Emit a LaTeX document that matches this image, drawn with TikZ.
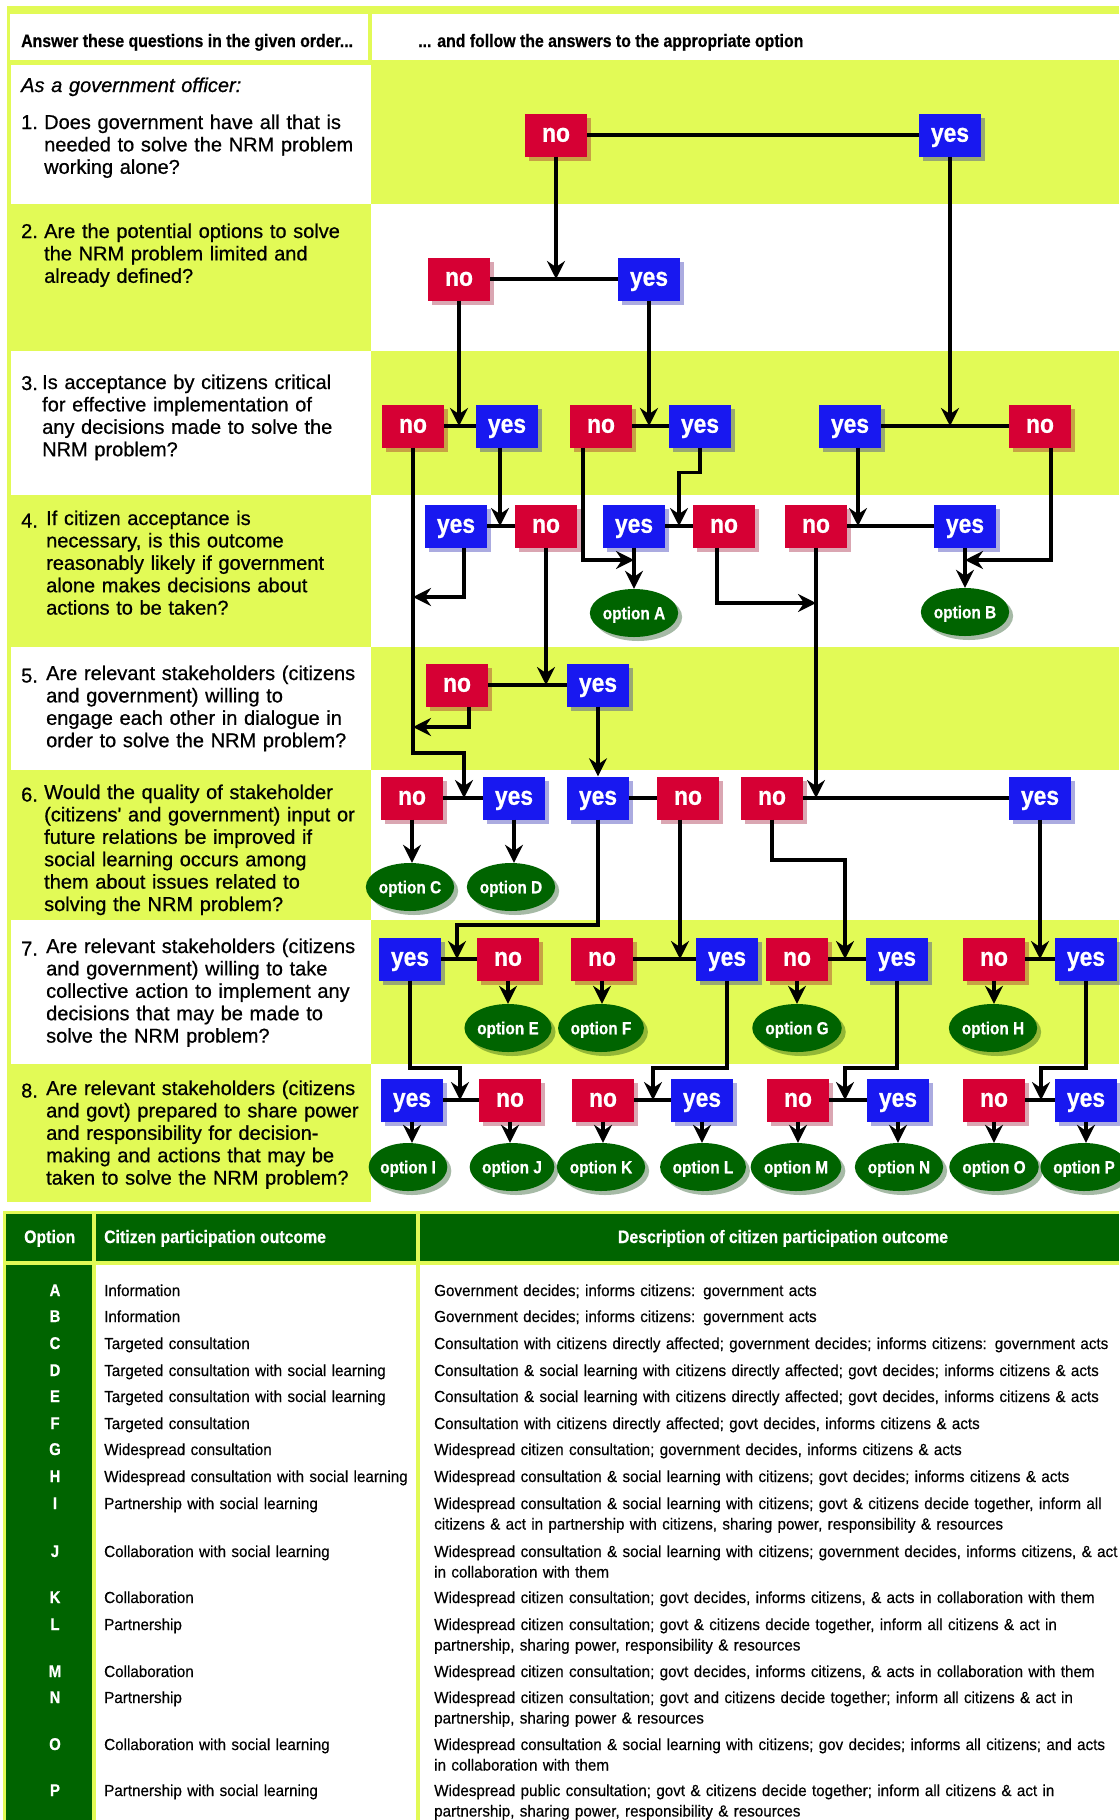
\documentclass[tikz,border=0pt]{standalone}
\usepackage{fontspec}
\setmainfont{Liberation Sans}
\newfontfamily\qfont[FakeBold=0.7]{Liberation Sans}
\newfontfamily\condbold[FakeStretch=0.88,FakeBold=0.6]{Liberation Sans Bold}
\newfontfamily\condreg[FakeStretch=0.95,FakeBold=0.4]{Liberation Sans}
\usetikzlibrary{arrows.meta,calc,shapes.geometric,shadows}
\definecolor{lime}{RGB}{226,250,86}
\definecolor{noRed}{RGB}{214,0,52}
\definecolor{yesBlue}{RGB}{24,24,240}
\definecolor{optGreen}{RGB}{0,100,0}
\tikzset{>={Stealth[length=18pt,width=18pt,inset=6pt]}}
\tikzstyle{answer}=[rectangle,minimum width=62pt,minimum height=43pt,inner sep=0pt,text height=13.5pt,text depth=0pt,text=white,font=\condbold\fontsize{26}{26}\selectfont]
\tikzstyle{box no}=[answer,fill=noRed,drop shadow={shadow xshift=4pt,shadow yshift=-4pt,opacity=0.35,fill=noRed!70!black}]
\tikzstyle{box yes}=[answer,fill=yesBlue,drop shadow={shadow xshift=4pt,shadow yshift=-4pt,opacity=0.35,fill=yesBlue!70!black}]
\tikzstyle{option}=[ellipse,minimum width=72pt,minimum height=48pt,inner sep=0pt,text height=12.5pt,text depth=0pt,fill=optGreen,text=white,font=\condbold\fontsize{17.5}{17.5}\selectfont,drop shadow={shadow xshift=4pt,shadow yshift=-4pt,opacity=0.35,fill=optGreen!60!black}]
\tikzstyle{wire}=[line width=3.5pt]
\tikzstyle{arr}=[wire,->]
\tikzstyle{qnum}=[anchor=base west,inner sep=0pt,font=\qfont\fontsize{20}{22.4}\selectfont]
\tikzstyle{question}=[anchor=base west,inner sep=0pt,text width=340pt,align=left,font=\qfont\fontsize{20}{22.4}\selectfont]
\tikzstyle{headtext}=[inner sep=0pt,font=\condbold\fontsize{18}{18}\selectfont]
\tikzstyle{letter}=[anchor=base,inner sep=0pt,text=white,font=\condbold\fontsize{17}{17}\selectfont]
\tikzstyle{cell}=[anchor=base west,inner sep=0pt,text width=700pt,align=left,font=\condreg\fontsize{16}{20.5}\selectfont]

\begin{document}
\begin{tikzpicture}[x=1pt,y=-1pt]
\useasboundingbox (0,0) rectangle (1119,1820);

% question grid
\fill[lime] (7,6) rectangle (1119,1202);
\fill[white] (10,14) rectangle (368,60);
\fill[white] (372,14) rectangle (1119,60);
\foreach \t/\b in {65/204,351/495,647/770,920/1064}
	\fill[white] (11,\t) rectangle (371,\b);
\foreach \t/\b in {204/351,495/647,770/920,1064/1202}
	\fill[white] (371,\t) rectangle (1119,\b);

\node[headtext,anchor=base west] (hq) at (21,47) {Answer these questions in the given order...};
\node[headtext,anchor=base west] (ha) at (418,47) {... and follow the answers to the appropriate option};

\node[question,font=\qfont\itshape\fontsize{20}{22.4}\selectfont] (q0) at (21,92) {As a government officer:};
\node[qnum] (q1n) at (21,129) {1.};
\node[question] (q1) at (44,129) {Does government have all that is\\needed to solve the NRM problem\\working alone?};
\node[qnum] (q2n) at (21,238) {2.};
\node[question] (q2) at (44,238) {Are the potential options to solve\\the NRM problem limited and\\already defined?};
\node[qnum] (q3n) at (21,390) {3.};
\node[question] (q3) at (42,389) {Is acceptance by citizens critical\\for effective implementation of\\any decisions made to solve the\\NRM problem?};
\node[qnum] (q4n) at (21,527.5) {4.};
\node[question] (q4) at (46,525) {If citizen acceptance is\\necessary, is this outcome\\reasonably likely if government\\alone makes decisions about\\actions to be taken?};
\node[qnum] (q5n) at (21,682.5) {5.};
\node[question] (q5) at (46,680) {Are relevant stakeholders (citizens\\and government) willing to\\engage each other in dialogue in\\order to solve the NRM problem?};
\node[qnum] (q6n) at (21,801.5) {6.};
\node[question] (q6) at (44,799) {Would the quality of stakeholder\\(citizens' and government) input or\\future relations be improved if\\social learning occurs among\\them about issues related to\\solving the NRM problem?};
\node[qnum] (q7n) at (21,955.5) {7.};
\node[question] (q7) at (46,953) {Are relevant stakeholders (citizens\\and government) willing to take\\collective action to implement any\\decisions that may be made to\\solve the NRM problem?};
\node[qnum] (q8n) at (21,1097.5) {8.};
\node[question] (q8) at (46,1095) {Are relevant stakeholders (citizens\\and govt) prepared to share power\\and responsibility for decision-\\making and actions that may be\\taken to solve the NRM problem?};

% answer boxes
\node[box no] (r1a) at (556,135) {no};
\node[box yes] (r1b) at (950,135) {yes};
\node[box no] (r2a) at (459,279) {no};
\node[box yes] (r2b) at (649,279) {yes};
\foreach \n/\x/\k in {a/413/no,b/507/yes,c/601/no,d/700/yes,e/850/yes,f/1040/no}
	\node[box \k] (r3\n) at (\x,426) {\k};
\foreach \n/\x/\k in {a/456/yes,b/546/no,c/634/yes,d/724/no,e/816/no,f/965/yes}
	\node[box \k] (r4\n) at (\x,526) {\k};
\node[box no] (r5a) at (457,685) {no};
\node[box yes] (r5b) at (598,685) {yes};
\foreach \n/\x/\k in {a/412/no,b/514/yes,c/598/yes,d/688/no,e/772/no,f/1040/yes}
	\node[box \k] (r6\n) at (\x,798) {\k};
\foreach \n/\x/\k in {a/410/yes,b/508/no,c/602/no,d/727/yes,e/797/no,f/897/yes,g/994/no,h/1086/yes}
	\node[box \k] (r7\n) at (\x,959) {\k};
\foreach \n/\x/\k in {a/412/yes,b/510/no,c/603/no,d/702/yes,e/798/no,f/898/yes,g/994/no,h/1086/yes}
	\node[box \k] (r8\n) at (\x,1100) {\k};

% options
\node[option] (optA) at (634,613) {option A};
\node[option] (optB) at (965,612) {option B};
\node[option] (optC) at (410,887) {option C};
\node[option] (optD) at (511,887) {option D};
\foreach \l/\x in {E/508,F/601,G/797,H/993}
	\node[option] (opt\l) at (\x,1028) {option \l};
\foreach \l/\x in {I/408,J/512,K/601,L/703,M/796,N/899,O/994,P/1084}
	\node[option] (opt\l) at (\x,1167) {option \l};

% junctions
\coordinate (j2) at (556,279);
\coordinate (j3a) at (459,426);
\coordinate (j3b) at (649,426);
\coordinate (j3c) at (950,426);
\coordinate (j4a) at (500,526);
\coordinate (j4b) at (679,526);
\coordinate (j4c) at (858,526);
\coordinate (k4a) at (413,597);
\coordinate (k4b) at (634,560);
\coordinate (k4c) at (816,603);
\coordinate (k4d) at (965,560);
\coordinate (j5) at (546,685);
\coordinate (k5) at (413,727);
\coordinate (j6a) at (464,798);
\coordinate (j6b) at (816,798);
\coordinate (j7a) at (457,959);
\coordinate (j7b) at (680,959);
\coordinate (j7c) at (845,959);
\coordinate (j7d) at (1040,959);
\coordinate (j8a) at (460,1100);
\coordinate (j8b) at (653,1100);
\coordinate (j8c) at (845,1100);
\coordinate (j8d) at (1041,1100);

\draw[wire] (r1a) -- (r1b);
\draw[wire] (r2a) -- (r2b);
\foreach \r in {3,4,6} {
	\draw[wire] (r\r a) -- (r\r b);
	\draw[wire] (r\r c) -- (r\r d);
	\draw[wire] (r\r e) -- (r\r f);
};
\draw[wire] (r5a) -- (r5b);
\foreach \r in {7,8} {
	\draw[wire] (r\r a) -- (r\r b);
	\draw[wire] (r\r c) -- (r\r d);
	\draw[wire] (r\r e) -- (r\r f);
	\draw[wire] (r\r g) -- (r\r h);
};

\draw[arr] (r1a) -- (j2);
\draw[arr] (r1b) -- (j3c);
\draw[arr] (r2a) -- (j3a);
\draw[arr] (r2b) -- (j3b);

\draw[arr] (r3a.south) -- ++(0,305.5) -| (j6a);
\draw[arr] (r3b.south -| j4a) -- (j4a);
\draw[arr] ([xshift=-18pt]r3c.south) |- (k4b);
\draw[arr] (r3d.south) -- ++(0,25) -| (j4b);
\draw[arr] (r3e.south -| j4c) -- (j4c);
\draw[arr] ([xshift=11pt]r3f.south) |- (k4d);

\draw[arr] ([xshift=8pt]r4a.south) |- (k4a);
\draw[arr] (r4b) -- (j5);
\draw[arr] (r4c) -- (optA);
\draw[arr] ([xshift=-7pt]r4d.south) |- (k4c);
\draw[arr] (r4e) -- (j6b);
\draw[arr] (r4f) -- (optB);

\draw[arr] ([xshift=12pt]r5a.south) |- (k5);
\draw[arr] (r5b) -- (r6c);

\draw[arr] (r6a.south) -- (r6a.south |- optC.north);
\draw[arr] (r6b.south) -- (r6b.south |- optD.north);
\draw[arr] (r6c.south) -- ++(0,105.5) -| (j7a);
\draw[arr] (r6d.south -| j7b) -- (j7b);
\draw[arr] (r6e.south) -- ++(0,40.5) -| (j7c);
\draw[arr] (r6f) -- (j7d);

\foreach \n/\l in {b/E,c/F,e/G,g/H}
	\draw[arr] (r7\n.south) -- (r7\n.south |- opt\l.north);
\draw[arr] (r7a.south) -- ++(0,87.5) -| (j8a);
\draw[arr] (r7d.south) -- ++(0,87.5) -| (j8b);
\draw[arr] (r7f.south) -- ++(0,87.5) -| (j8c);
\draw[arr] (r7h.south) -- ++(0,87.5) -| (j8d);

\foreach \n/\l in {a/I,b/J,c/K,d/L,e/M,f/N,g/O,h/P}
	\draw[arr] (r8\n.south) -- (r8\n.south |- opt\l.north);

% outcome table
\fill[lime] (3,1211) rectangle (1119,1820);
\fill[optGreen] (6,1214) rectangle (92,1261);
\fill[optGreen] (96,1214) rectangle (416,1261);
\fill[optGreen] (420,1214) rectangle (1119,1261);
\fill[optGreen] (6,1265) rectangle (92,1820);
\fill[white] (96,1265) rectangle (416,1820);
\fill[white] (420,1265) rectangle (1119,1820);

\node[headtext,anchor=base west,text=white] (tho) at (24,1243) {Option};
\node[headtext,anchor=base west,text=white] (thc) at (104,1243) {Citizen participation outcome};
\node[headtext,anchor=base,text=white] (thd) at (783,1243) {Description of citizen participation outcome};

\foreach \l/\y/\c/\d in {
	A/1296/{Information}/{Government decides; informs citizens: government acts},
	B/1322/{Information}/{Government decides; informs citizens: government acts},
	C/1349/{Targeted consultation}/{Consultation with citizens directly affected; government decides; informs citizens: government acts},
	D/1376/{Targeted consultation with social learning}/{Consultation \& social learning with citizens directly affected; govt decides; informs citizens \& acts},
	E/1402/{Targeted consultation with social learning}/{Consultation \& social learning with citizens directly affected; govt decides, informs citizens \& acts},
	F/1429/{Targeted consultation}/{Consultation with citizens directly affected; govt decides, informs citizens \& acts},
	G/1455/{Widespread consultation}/{Widespread citizen consultation; government decides, informs citizens \& acts},
	H/1482/{Widespread consultation with social learning}/{Widespread consultation \& social learning with citizens; govt decides; informs citizens \& acts},
	I/1509/{Partnership with social learning}/{Widespread consultation \& social learning with citizens; govt \& citizens decide together, inform all\\citizens \& act in partnership with citizens, sharing power, responsibility \& resources},
	J/1557/{Collaboration with social learning}/{Widespread consultation \& social learning with citizens; government decides, informs citizens, \& act\\in collaboration with them},
	K/1603/{Collaboration}/{Widespread citizen consultation; govt decides, informs citizens, \& acts in collaboration with them},
	L/1630/{Partnership}/{Widespread citizen consultation; govt \& citizens decide together, inform all citizens \& act in\\partnership, sharing power, responsibility \& resources},
	M/1677/{Collaboration}/{Widespread citizen consultation; govt decides, informs citizens, \& acts in collaboration with them},
	N/1703/{Partnership}/{Widespread citizen consultation; govt and citizens decide together; inform all citizens \& act in\\partnership, sharing power \& resources},
	O/1750/{Collaboration with social learning}/{Widespread consultation \& social learning with citizens; gov decides; informs all citizens; and acts\\in collaboration with them},
	P/1796/{Partnership with social learning}/{Widespread public consultation; govt \& citizens decide together; inform all citizens \& act in\\partnership, sharing power, responsibility \& resources}} {
	\node[letter] (L\l) at (55,\y) {\l};
	\node[cell,text width=310pt] (C\l) at (104,\y) {\c};
	\node[cell] (D\l) at (434,\y) {\d};
};

\end{tikzpicture}
\end{document}
